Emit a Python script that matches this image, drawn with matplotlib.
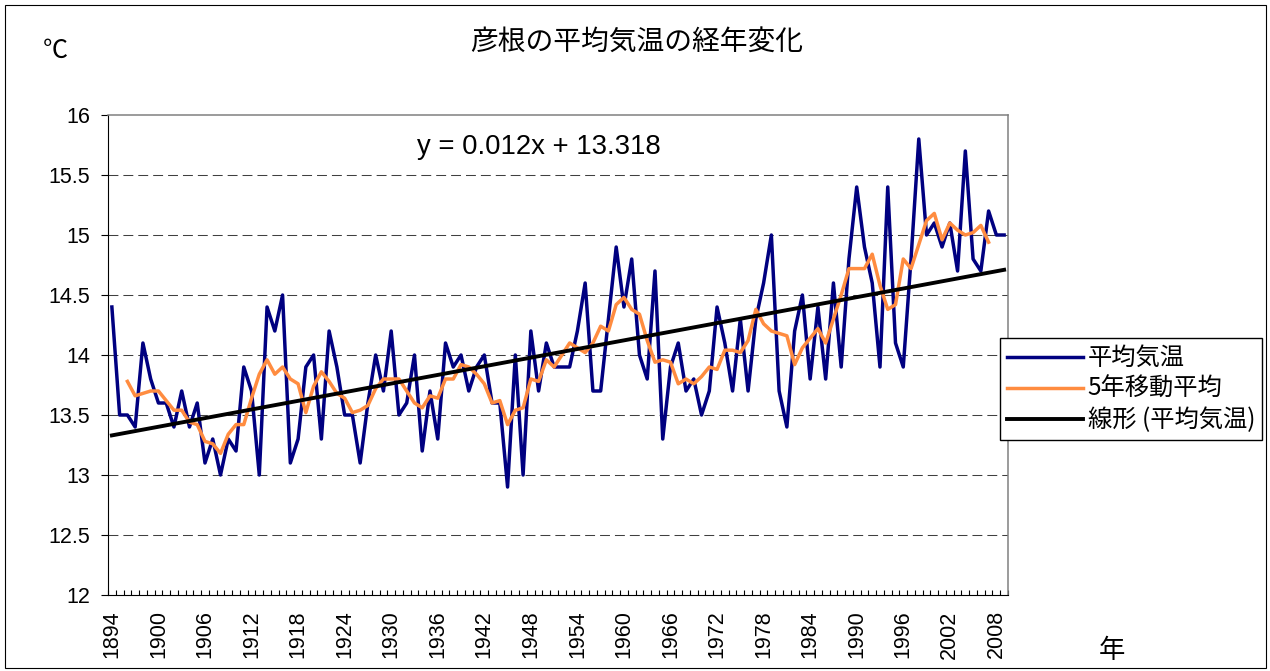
import matplotlib
matplotlib.use("Agg")
import matplotlib.pyplot as plt
import numpy as np
import pandas as pd
from matplotlib.patches import Rectangle
from matplotlib.ticker import FixedLocator

plt.rcParams["font.family"] = ["Liberation Sans", "Noto Sans CJK JP", "DejaVu Sans"]
JP = ["Noto Sans CJK JP", "DejaVu Sans"]

# annual mean temperature at Hikone, 1894-2009
YEARS = list(range(1894, 2010))
TEMPS = [
    14.4, 13.5, 13.5, 13.4, 14.1, 13.8, 13.6, 13.6, 13.4, 13.7,  # 1894-1903
    13.4, 13.6, 13.1, 13.3, 13.0, 13.3, 13.2, 13.9, 13.7, 13.0,  # 1904-1913
    14.4, 14.2, 14.5, 13.1, 13.3, 13.9, 14.0, 13.3, 14.2, 13.9,  # 1914-1923
    13.5, 13.5, 13.1, 13.6, 14.0, 13.7, 14.2, 13.5, 13.6, 14.0,  # 1924-1933
    13.2, 13.7, 13.3, 14.1, 13.9, 14.0, 13.7, 13.9, 14.0, 13.6,  # 1934-1943
    13.6, 12.9, 14.0, 13.0, 14.2, 13.7, 14.1, 13.9, 13.9, 13.9,  # 1944-1953
    14.2, 14.6, 13.7, 13.7, 14.3, 14.9, 14.4, 14.8, 14.0, 13.8,  # 1954-1963
    14.7, 13.3, 13.9, 14.1, 13.7, 13.8, 13.5, 13.7, 14.4, 14.1,  # 1964-1973
    13.7, 14.3, 13.7, 14.3, 14.6, 15.0, 13.7, 13.4, 14.2, 14.5,  # 1974-1983
    13.8, 14.4, 13.8, 14.6, 13.9, 14.8, 15.4, 14.9, 14.6, 13.9,  # 1984-1993
    15.4, 14.1, 13.9, 14.8, 15.8, 15.0, 15.1, 14.9, 15.1, 14.7,  # 1994-2003
    15.7, 14.8, 14.7, 15.2, 15.0, 15.0,                          # 2004-2009
]
TREND_SLOPE = 0.012
TREND_INTERCEPT = 13.318
TICK_YEARS = list(range(1894, 2010, 6))
Y_TICKS = [12, 12.5, 13, 13.5, 14, 14.5, 15, 15.5, 16]

W, H = 1270, 671
fig = plt.figure(figsize=(W / 100, H / 100), dpi=100)
ax = fig.add_axes([108 / W, 1 - 595 / H, 900 / W, 480 / H])

temps = pd.Series(TEMPS, index=YEARS)
ma5 = temps.rolling(5, center=True).mean()
idx = np.arange(1, len(YEARS) + 1)
trend = TREND_SLOPE * idx + TREND_INTERCEPT

for v in Y_TICKS[1:-1]:
    ax.axhline(v, color="#404040", lw=0.75, linestyle=(0, (9.5, 4.8)), zorder=1)

ax.plot(YEARS, temps.values, color="#000080", lw=2.5, label="平均気温", zorder=3)
ax.plot(YEARS, ma5.values, color="#FF8C40", lw=2.5, label="5年移動平均", zorder=4)
ax.plot(YEARS, trend, color="black", lw=2.8, label="線形 (平均気温)", zorder=5)

ax.set_xlim(YEARS[0] - 0.5, YEARS[-1] + 0.5)
ax.set_ylim(12, 16)
ax.set_yticks(Y_TICKS)
ax.set_yticklabels([f"{v:g}" for v in Y_TICKS])
ax.set_xticks(TICK_YEARS)
ax.set_xticklabels([str(y) for y in TICK_YEARS], rotation=90)
ax.xaxis.set_minor_locator(FixedLocator(np.arange(YEARS[0] - 0.5, YEARS[-1] + 1, 1)))
ax.tick_params(axis="x", which="major", length=0, pad=11, labelsize=15.5)
ax.tick_params(axis="x", which="minor", direction="in", length=3.6, width=0.8)
ax.tick_params(axis="y", direction="out", length=5, width=0.8, pad=8, labelsize=15.5)

for side in ["top", "right"]:
    ax.spines[side].set_color("#808080")
    ax.spines[side].set_linewidth(1.1)
for side in ["left", "bottom"]:
    ax.spines[side].set_color("black")
    ax.spines[side].set_linewidth(0.8)

fig.text(637 / W, 1 - 42 / H, "彦根の平均気温の経年変化", ha="center", va="center",
         fontsize=20, family=JP)
fig.text(55 / W, 1 - 51 / H, "℃", ha="center", va="center", fontsize=18, family=JP)
fig.text(1112 / W, 1 - 650 / H, "年", ha="center", va="center", fontsize=19, family=JP)
fig.text(539 / W, 1 - 147 / H, f"y = {TREND_SLOPE}x + {TREND_INTERCEPT}",
         ha="center", va="center", fontsize=19.8)

leg = fig.legend(loc="upper left", bbox_to_anchor=(1000 / W, 1 - 338 / H),
                 prop={"family": JP, "size": 17.5}, frameon=True, fancybox=False,
                 edgecolor="black", framealpha=1, handlelength=3.1,
                 handletextpad=0.2, borderpad=0.3, labelspacing=0.2,
                 borderaxespad=0)
leg.get_frame().set_linewidth(1.0)

fig.add_artist(Rectangle((5 / W, 1 - 668 / H), 1261 / W, 663 / H,
                         transform=fig.transFigure, fill=False,
                         edgecolor="black", lw=0.8))

fig.savefig("out.png", dpi=100)
